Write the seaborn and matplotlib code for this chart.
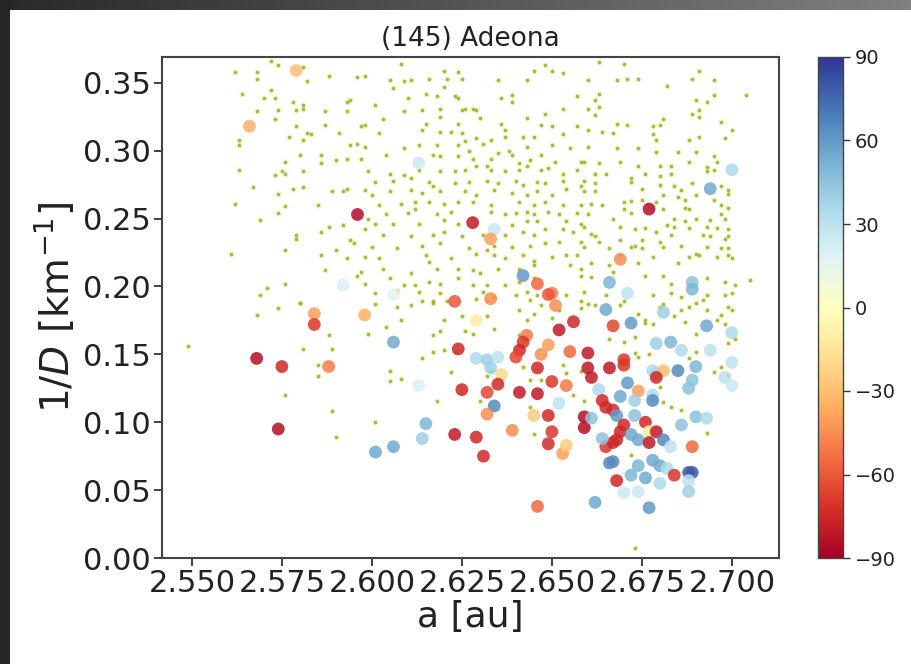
import matplotlib
matplotlib.use("Agg")
import numpy as np
import pandas as pd
import matplotlib.pyplot as plt
import seaborn as sns
from matplotlib.colors import Normalize
from matplotlib.cm import ScalarMappable
from matplotlib.patches import Rectangle

# Background asteroids in the region: (a [au], 1/D [1/km])
field = [
    (2.562,0.358),(2.568,0.358),(2.572,0.366),(2.574,0.363),(2.581,0.362),(2.568,0.353),(2.582,0.351),(2.588,0.355),(2.596,0.354),(2.598,0.355),
    (2.564,0.342),(2.572,0.345),(2.570,0.339),(2.573,0.339),(2.578,0.336),(2.581,0.334),(2.581,0.331),(2.593,0.336),(2.594,0.337),
    (2.568,0.329),(2.574,0.330),(2.579,0.330),(2.587,0.329),(2.593,0.329),(2.573,0.323),(2.579,0.318),(2.587,0.319),(2.591,0.313),(2.597,0.318),(2.598,0.319),
    (2.563,0.308),(2.563,0.304),(2.577,0.310),(2.582,0.313),(2.583,0.312),(2.581,0.308),(2.594,0.304),(2.596,0.305),(2.598,0.303),
    (2.597,0.294),(2.576,0.292),(2.580,0.297),(2.586,0.297),(2.586,0.291),(2.590,0.293),(2.593,0.294),
    (2.563,0.286),(2.573,0.282),(2.575,0.285),(2.576,0.283),(2.581,0.285),
    (2.567,0.273),(2.578,0.272),(2.581,0.273),(2.589,0.270),(2.592,0.270),(2.593,0.272),(2.598,0.271),
    (2.562,0.261),(2.574,0.268),(2.585,0.260),(2.576,0.259),(2.569,0.249),(2.574,0.254),
    (2.588,0.244),(2.586,0.240),(2.592,0.245),(2.579,0.238),(2.579,0.235),(2.594,0.234),(2.595,0.232),(2.598,0.242),
    (2.561,0.224),(2.576,0.227),(2.586,0.223),(2.590,0.227),(2.593,0.221),(2.598,0.222),
    (2.587,0.212),(2.596,0.208),(2.597,0.211),(2.598,0.202),(2.576,0.202),(2.571,0.199),(2.569,0.194),(2.580,0.188),
    (2.608,0.364),(2.620,0.359),(2.624,0.358),(2.645,0.359),(2.648,0.363),(2.650,0.359),(2.653,0.357),(2.660,0.352),
    (2.605,0.352),(2.609,0.351),(2.611,0.352),(2.616,0.353),(2.621,0.353),(2.625,0.353),(2.635,0.352),(2.643,0.352),
    (2.606,0.346),(2.620,0.347),(2.610,0.339),(2.615,0.342),(2.618,0.340),(2.623,0.340),(2.624,0.339),(2.636,0.339),(2.639,0.341),(2.639,0.336),(2.657,0.340),
    (2.601,0.334),(2.609,0.329),(2.614,0.330),(2.619,0.331),(2.625,0.330),(2.626,0.331),(2.628,0.331),(2.629,0.330),(2.643,0.324),(2.648,0.327),(2.653,0.331),(2.660,0.331),
    (2.603,0.323),(2.615,0.320),(2.619,0.325),(2.624,0.320),(2.630,0.324),(2.636,0.320),(2.637,0.315),(2.647,0.319),(2.650,0.318),(2.657,0.318),
    (2.602,0.313),(2.614,0.315),(2.619,0.314),(2.622,0.314),(2.625,0.313),(2.629,0.309),(2.626,0.307),(2.633,0.308),(2.637,0.310),(2.642,0.310),(2.645,0.310),(2.653,0.312),
    (2.609,0.302),(2.613,0.304),(2.618,0.304),(2.624,0.304),(2.627,0.300),(2.631,0.305),(2.635,0.298),(2.638,0.300),(2.639,0.297),(2.643,0.303),(2.650,0.304),(2.655,0.302),
    (2.604,0.297),(2.617,0.297),(2.619,0.296),(2.624,0.296),(2.628,0.294),(2.629,0.289),(2.632,0.289),(2.633,0.294),(2.641,0.291),(2.643,0.289),(2.644,0.293),(2.647,0.297),(2.651,0.292),(2.658,0.292),
    (2.599,0.285),(2.605,0.283),(2.609,0.282),(2.613,0.286),(2.619,0.285),(2.623,0.285),(2.626,0.286),(2.633,0.286),(2.637,0.285),(2.641,0.286),(2.647,0.286),(2.649,0.287),(2.653,0.283),(2.657,0.286),
    (2.601,0.277),(2.606,0.278),(2.611,0.280),(2.616,0.277),(2.617,0.274),(2.623,0.276),(2.627,0.277),(2.632,0.278),(2.635,0.276),(2.640,0.278),(2.642,0.275),(2.646,0.277),(2.648,0.276),(2.653,0.278),(2.659,0.278),
    (2.600,0.267),(2.605,0.270),(2.611,0.271),(2.614,0.269),(2.619,0.270),(2.626,0.270),(2.629,0.267),(2.634,0.271),(2.639,0.269),(2.643,0.267),(2.646,0.270),(2.650,0.267),(2.654,0.272),(2.659,0.270),
    (2.602,0.260),(2.608,0.261),(2.612,0.262),(2.616,0.262),(2.620,0.261),(2.624,0.262),(2.628,0.262),(2.633,0.260),(2.641,0.262),(2.645,0.260),(2.648,0.262),(2.653,0.260),(2.661,0.261),
    (2.599,0.250),(2.604,0.253),(2.610,0.254),(2.612,0.257),(2.618,0.253),(2.622,0.255),(2.633,0.255),(2.637,0.253),(2.640,0.254),(2.643,0.255),(2.645,0.253),(2.649,0.255),(2.652,0.253),(2.657,0.254),
    (2.601,0.246),(2.606,0.246),(2.613,0.246),(2.620,0.249),(2.624,0.246),(2.639,0.245),(2.643,0.248),(2.646,0.248),(2.654,0.248),(2.658,0.246),
    (2.603,0.238),(2.611,0.237),(2.617,0.238),(2.620,0.240),(2.625,0.237),(2.631,0.238),(2.637,0.238),(2.642,0.240),(2.645,0.238),(2.648,0.242),(2.653,0.242),(2.656,0.240),(2.661,0.239),
    (2.600,0.229),(2.607,0.228),(2.614,0.230),(2.619,0.232),(2.627,0.228),(2.632,0.227),(2.634,0.230),(2.639,0.229),(2.644,0.230),(2.648,0.232),(2.652,0.233),(2.658,0.233),
    (2.602,0.221),(2.615,0.223),(2.616,0.218),(2.622,0.221),(2.629,0.224),(2.634,0.223),(2.637,0.221),(2.642,0.223),(2.645,0.219),(2.650,0.222),(2.654,0.223),(2.657,0.223),
    (2.603,0.213),(2.611,0.210),(2.618,0.213),(2.624,0.213),(2.628,0.212),(2.630,0.210),(2.635,0.213),(2.641,0.213),(2.645,0.216),(2.655,0.216),(2.658,0.213),
    (2.605,0.206),(2.609,0.201),(2.612,0.201),(2.616,0.203),(2.619,0.202),(2.624,0.206),(2.628,0.201),(2.632,0.201),(2.637,0.201),(2.641,0.203),(2.645,0.206),(2.658,0.208),
    (2.601,0.195),(2.607,0.197),(2.613,0.196),(2.619,0.195),(2.631,0.196),(2.634,0.192),(2.640,0.194),(2.643,0.196),(2.646,0.194),(2.654,0.194),
    (2.601,0.187),(2.614,0.189),(2.617,0.189),(2.629,0.191),(2.632,0.189),(2.644,0.190),(2.658,0.189),
    (2.663,0.365),(2.670,0.364),(2.691,0.359),(2.695,0.352),(2.668,0.352),(2.671,0.353),(2.674,0.353),(2.682,0.348),(2.689,0.353),(2.704,0.341),
    (2.662,0.337),(2.663,0.342),(2.663,0.332),(2.662,0.326),(2.690,0.337),(2.693,0.336),(2.695,0.341),(2.691,0.330),(2.689,0.327),(2.691,0.325),(2.668,0.320),(2.671,0.319),(2.678,0.318),(2.681,0.323),(2.680,0.319),(2.697,0.321),
    (2.660,0.315),(2.664,0.314),(2.667,0.313),(2.678,0.312),(2.679,0.308),(2.688,0.308),(2.691,0.310),(2.698,0.309),(2.700,0.315),
    (2.668,0.302),(2.660,0.303),(2.674,0.302),(2.679,0.299),(2.690,0.299),(2.685,0.299),(2.695,0.296),
    (2.659,0.292),(2.663,0.291),(2.669,0.292),(2.674,0.289),(2.680,0.289),(2.683,0.289),(2.688,0.292),(2.693,0.288),(2.696,0.292),
    (2.662,0.283),(2.665,0.283),(2.672,0.280),(2.676,0.283),(2.680,0.281),(2.683,0.283),(2.693,0.285),(2.695,0.286),
    (2.658,0.274),(2.662,0.276),(2.672,0.277),(2.675,0.272),(2.680,0.275),(2.684,0.274),(2.686,0.271),(2.689,0.276),(2.697,0.274),(2.699,0.271),
    (2.662,0.270),(2.670,0.262),(2.672,0.263),(2.675,0.264),(2.679,0.262),(2.681,0.267),(2.685,0.266),(2.687,0.264),(2.690,0.267),(2.695,0.264),(2.699,0.268),
    (2.658,0.260),(2.664,0.260),(2.670,0.257),(2.681,0.257),(2.687,0.258),(2.688,0.257),(2.697,0.260),(2.699,0.258),
    (2.660,0.253),(2.667,0.250),(2.672,0.254),(2.684,0.250),(2.682,0.245),(2.687,0.248),(2.690,0.250),(2.694,0.249),(2.697,0.253),(2.698,0.250),
    (2.659,0.244),(2.669,0.244),(2.673,0.242),(2.676,0.243),(2.679,0.240),(2.684,0.244),(2.688,0.243),(2.693,0.244),(2.696,0.243),(2.699,0.242),
    (2.662,0.237),(2.663,0.233),(2.669,0.234),(2.673,0.230),(2.675,0.234),(2.680,0.233),(2.683,0.238),(2.692,0.238),(2.694,0.237),(2.698,0.235),(2.699,0.237),
    (2.659,0.229),(2.666,0.228),(2.669,0.223),(2.672,0.229),(2.675,0.228),(2.681,0.229),(2.686,0.230),(2.690,0.224),(2.693,0.229),(2.697,0.228),(2.699,0.228),
    (2.661,0.217),(2.666,0.216),(2.674,0.217),(2.678,0.222),(2.685,0.217),(2.688,0.222),(2.691,0.223),(2.696,0.222),(2.699,0.223),(2.700,0.221),
    (2.661,0.207),(2.667,0.211),(2.676,0.208),(2.681,0.208),(2.683,0.202),(2.693,0.206),(2.698,0.203),(2.701,0.201),(2.705,0.205),
    (2.659,0.196),(2.665,0.194),(2.678,0.194),(2.683,0.195),(2.686,0.192),(2.693,0.194),(2.698,0.194),(2.700,0.195),
    (2.660,0.187),(2.670,0.189),(2.681,0.187),(2.692,0.190),
    (2.568,0.179),(2.574,0.184),(2.580,0.188),(2.588,0.164),(2.581,0.154),(2.589,0.154),(2.585,0.142),(2.585,0.134),(2.576,0.120),(2.589,0.108),(2.590,0.089),(2.549,0.156),
    (2.607,0.185),(2.611,0.186),(2.617,0.188),(2.621,0.189),(2.625,0.178),(2.628,0.165),(2.632,0.178),(2.634,0.169),(2.641,0.183),(2.643,0.175),(2.645,0.180),(2.647,0.186),(2.650,0.177),(2.652,0.183),(2.658,0.184),
    (2.604,0.170),(2.608,0.175),(2.614,0.147),(2.617,0.152),(2.620,0.153),(2.623,0.152),(2.622,0.137),(2.626,0.167),(2.617,0.164),(2.620,0.175),(2.619,0.167),
    (2.605,0.138),(2.608,0.132),(2.605,0.130),(2.618,0.116),(2.601,0.100),(2.630,0.116),(2.632,0.134),(2.633,0.138),(2.641,0.164),(2.642,0.141),(2.644,0.131),(2.647,0.131),(2.653,0.142),(2.654,0.136),(2.658,0.138),(2.644,0.111),(2.645,0.091),(2.659,0.116),(2.656,0.120),(2.599,0.165),
    (2.662,0.186),(2.669,0.186),(2.674,0.180),(2.676,0.173),(2.680,0.185),(2.686,0.183),(2.688,0.185),(2.690,0.188),(2.693,0.183),(2.697,0.179),(2.699,0.185),(2.700,0.183),(2.696,0.175),(2.698,0.172),
    (2.666,0.161),(2.670,0.159),(2.673,0.163),(2.676,0.175),(2.678,0.172),(2.684,0.178),(2.687,0.174),(2.690,0.165),(2.699,0.158),(2.701,0.161),
    (2.673,0.151),(2.674,0.148),(2.677,0.150),(2.690,0.152),(2.697,0.141),(2.695,0.137),(2.699,0.135),(2.688,0.147),
    (2.681,0.115),(2.683,0.111),(2.686,0.109),(2.693,0.092),(2.680,0.126),(2.672,0.076),(2.673,0.007),
]

# Family members: (a [au], 1/D [1/km], colour value)
family = [
    (2.579,0.359,-30),(2.566,0.318,-35),(2.596,0.253,-85),(2.592,0.201,20),(2.613,0.291,25),
    (2.628,0.247,-80),(2.634,0.242,25),(2.633,0.235,-40),(2.642,0.208,60),(2.646,0.202,-55),
    (2.650,0.195,-50),(2.649,0.194,-60),(2.606,0.194,15),(2.623,0.189,-60),(2.633,0.191,-45),
    (2.700,0.286,35),(2.694,0.272,55),(2.677,0.257,-85),(2.669,0.220,-45),(2.666,0.203,50),
    (2.671,0.195,30),(2.689,0.203,45),(2.689,0.198,50),(2.584,0.180,-40),(2.584,0.172,-70),
    (2.598,0.179,-35),(2.568,0.147,-85),(2.575,0.141,-75),(2.588,0.141,-50),(2.574,0.095,-85),
    (2.606,0.159,55),(2.624,0.154,-75),(2.613,0.127,20),(2.625,0.124,-75),(2.615,0.099,50),
    (2.614,0.088,40),(2.601,0.078,55),(2.606,0.082,55),(2.623,0.091,-80),(2.629,0.089,-75),
    (2.631,0.075,-75),(2.646,0.038,-55),(2.629,0.175,-10),(2.629,0.147,35),(2.632,0.146,40),
    (2.635,0.148,30),(2.633,0.140,40),(2.636,0.135,-20),(2.635,0.128,-75),(2.632,0.122,-65),
    (2.634,0.112,65),(2.632,0.106,-45),(2.641,0.122,-80),(2.646,0.121,-80),(2.639,0.094,-45),
    (2.649,0.085,40),(2.649,0.084,-70),(2.653,0.077,-40),(2.654,0.083,-25),(2.650,0.093,-70),
    (2.649,0.105,-75),(2.645,0.105,-25),(2.652,0.114,30),(2.654,0.127,-50),(2.650,0.130,-70),
    (2.646,0.140,-75),(2.647,0.150,-45),(2.649,0.157,-40),(2.643,0.164,-50),(2.642,0.159,-70),
    (2.641,0.153,-75),(2.640,0.148,-65),(2.652,0.168,-80),(2.655,0.152,-55),(2.651,0.186,-45),
    (2.656,0.174,-75),(2.665,0.183,55),(2.667,0.171,-65),(2.672,0.173,60),(2.681,0.181,40),
    (2.693,0.171,55),(2.700,0.166,35),(2.660,0.151,-80),(2.660,0.140,-80),(2.661,0.133,-80),
    (2.666,0.140,-80),(2.670,0.146,-70),(2.670,0.142,-70),(2.679,0.158,40),(2.683,0.159,50),
    (2.686,0.153,35),(2.694,0.153,30),(2.700,0.144,30),(2.690,0.141,50),(2.685,0.138,65),
    (2.678,0.138,35),(2.679,0.136,35),(2.681,0.138,-30),(2.679,0.133,-75),(2.689,0.131,45),
    (2.688,0.125,45),(2.698,0.133,30),(2.700,0.127,25),(2.671,0.129,60),(2.674,0.123,-40),
    (2.673,0.116,40),(2.669,0.119,55),(2.678,0.120,35),(2.678,0.116,65),(2.663,0.124,35),
    (2.664,0.116,-75),(2.665,0.111,-75),(2.667,0.109,-75),(2.668,0.105,60),(2.673,0.105,45),
    (2.659,0.104,-85),(2.659,0.096,-85),(2.661,0.103,45),(2.670,0.098,-75),(2.669,0.093,-75),
    (2.668,0.087,-75),(2.665,0.082,-70),(2.667,0.085,-75),(2.672,0.091,55),(2.674,0.087,55),
    (2.676,0.100,-75),(2.677,0.093,-10),(2.679,0.093,-80),(2.677,0.085,-80),(2.681,0.087,65),
    (2.683,0.082,30),(2.686,0.098,45),(2.690,0.104,45),(2.693,0.103,35),(2.689,0.082,-55),
    (2.664,0.088,45),(2.666,0.070,65),(2.667,0.071,65),(2.668,0.057,-75),(2.672,0.061,50),
    (2.674,0.068,50),(2.676,0.059,55),(2.678,0.072,55),(2.680,0.068,55),(2.680,0.055,35),
    (2.682,0.066,35),(2.684,0.061,-70),(2.688,0.063,80),(2.689,0.063,80),(2.688,0.057,30),
    (2.688,0.049,40),(2.670,0.048,25),(2.674,0.049,25),(2.662,0.041,55),(2.677,0.037,60),
]

x_ticks = [2.550, 2.575, 2.600, 2.625, 2.650, 2.675, 2.700]
y_ticks = [0.00, 0.05, 0.10, 0.15, 0.20, 0.25, 0.30, 0.35]
cbar_ticks = [-90, -60, -30, 0, 30, 60, 90]

field_df = pd.DataFrame(field, columns=["a", "inv_d"])
family_df = pd.DataFrame(family, columns=["a", "inv_d", "angle"])

sns.set_theme(style="white")
plt.rcParams["font.family"] = ["DejaVu Sans"]

W, H = 912, 664
fig = plt.figure(figsize=(W / 100, H / 100), dpi=100)
fig.patch.set_facecolor("white")

# dark window frame along the top and left edges
frame = fig.add_axes([0, 0, 1, 1], zorder=-10)
frame.set_axis_off()
frame.set_xlim(0, W)
frame.set_ylim(H, 0)
grad = np.linspace(0.16, 0.5, 256)[None, :]
frame.imshow(grad, cmap="gray", vmin=0, vmax=1, extent=[0, W, 10, 0], aspect="auto")
frame.add_patch(Rectangle((0, 0), 10, H, color="#262626", lw=0))

ax = fig.add_axes([162 / W, 106 / H, 617 / W, 501 / H])
cax = fig.add_axes([818 / W, 106 / H, 25 / W, 501 / H])

# faint halo under each background dot, then the dot itself
sns.scatterplot(data=field_df, x="a", y="inv_d", color="#eef2a0", s=22,
                linewidth=0, alpha=0.5, ax=ax, legend=False, zorder=2)
sns.scatterplot(data=field_df, x="a", y="inv_d", color="#a0b03c", s=7,
                linewidth=0, alpha=0.9, ax=ax, legend=False, zorder=2)
sns.scatterplot(data=family_df, x="a", y="inv_d", hue="angle", palette="RdYlBu",
                hue_norm=(-90, 90), s=85, linewidth=0, alpha=0.85, ax=ax,
                legend=False, zorder=3)

ax.set_xlim(2.5417, 2.7131)
ax.set_ylim(0, 0.369)
ax.set_xticks(x_ticks)
ax.set_xticklabels([f"{t:.3f}" for t in x_ticks])
ax.set_yticks(y_ticks)
ax.set_yticklabels([f"{t:.2f}" for t in y_ticks])
ax.tick_params(axis="both", labelsize=22, length=6, width=1.3, color="#333333",
               direction="out", bottom=True, left=True, pad=2, labelcolor="#222222")
for sp in ax.spines.values():
    sp.set_color("#444444")
    sp.set_linewidth(1.5)

ax.set_xlabel("a [au]", fontsize=26, color="#222222", labelpad=1)
ax.set_ylabel(r"1/$D$ [km$^{-1}$]", fontsize=28, color="#222222", labelpad=4)
ax.set_title("(145) Adeona", fontsize=19, color="#222222", pad=8)

sm = ScalarMappable(norm=Normalize(-90, 90), cmap="RdYlBu")
cb = fig.colorbar(sm, cax=cax, ticks=cbar_ticks)
cb.outline.set_edgecolor("#444444")
cb.outline.set_linewidth(1.0)
cax.tick_params(labelsize=14, length=5, width=1.0, color="#333333", labelcolor="#222222")

fig.savefig("out.png", dpi=100, facecolor="white")
